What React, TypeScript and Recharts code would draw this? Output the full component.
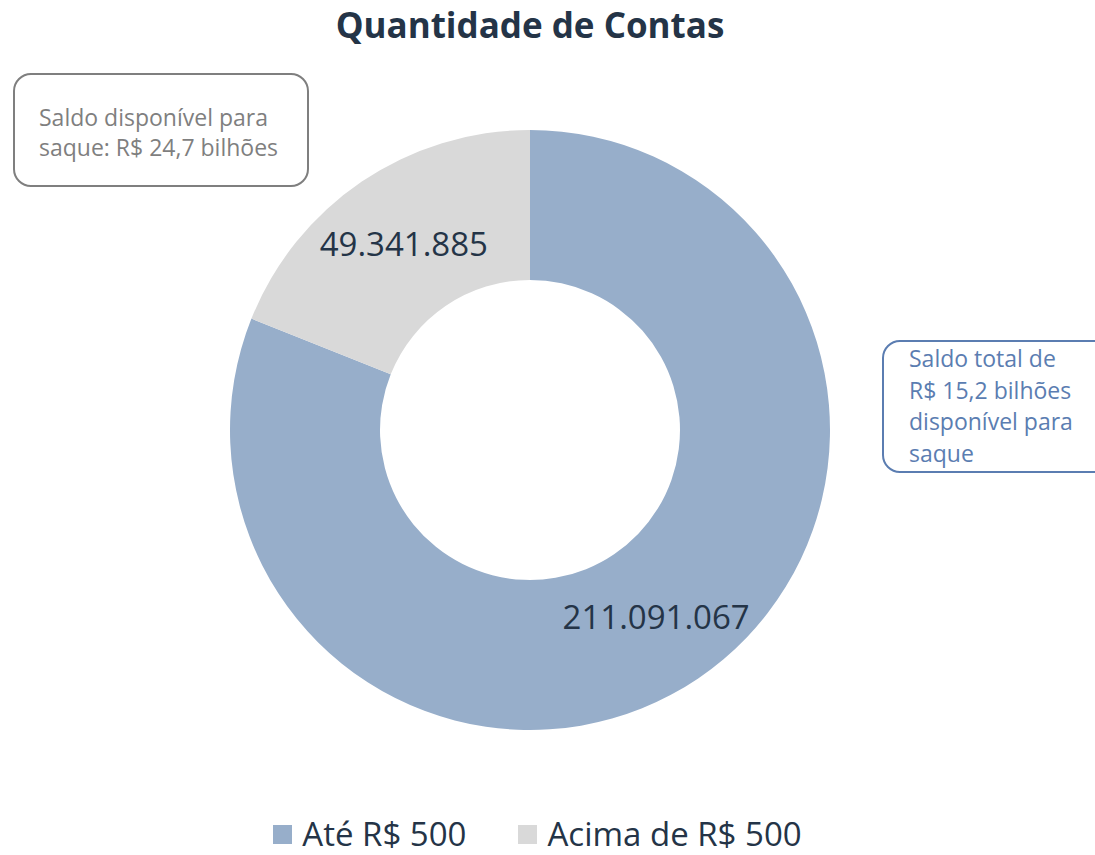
import { Cell, Legend, Pie, PieChart } from "recharts";

const categories = ["Até R$ 500", "Acima de R$ 500"];
const accountCounts = [211091067, 49341885];
const sliceColors = ["#97AECA", "#D9D9D9"];
const valueLabels = ["211.091.067", "49.341.885"];

const data = categories.map((name, i) => ({ name, value: accountCounts[i], label: valueLabels[i] }));

const FONT = "'Open Sans', sans-serif";
const NAVY = "#243447";
const RAD = Math.PI / 180;

function SliceLabel(props: any) {
  const { cx, cy, midAngle, innerRadius, outerRadius, payload } = props;
  const r = (innerRadius + outerRadius) / 2;
  const x = cx + r * Math.cos(-midAngle * RAD);
  const y = cy + r * Math.sin(-midAngle * RAD);
  return (
    <text x={x} y={y} textAnchor="middle" dominantBaseline="central" fill={NAVY} fontSize={33} fontFamily={FONT}>
      {payload.label}
    </text>
  );
}

function LegendRow() {
  return (
    <div style={{ display: "flex", justifyContent: "center", gap: 52, fontFamily: FONT, fontSize: 33, lineHeight: "42px", color: NAVY }}>
      {categories.map((c, i) => (
        <span key={c} style={{ display: "flex", alignItems: "center", gap: 10 }}>
          <span style={{ width: 19, height: 19, background: sliceColors[i], display: "inline-block" }} />
          {c}
        </span>
      ))}
    </div>
  );
}

export default function App() {
  return (
    <div style={{ position: "absolute", left: 0, top: 0, width: 1095, height: 855, background: "#fff", overflow: "hidden" }}>
      <div style={{ position: "absolute", top: 0, width: 1060, textAlign: "center", fontFamily: FONT, fontWeight: 700, fontSize: 35, lineHeight: "50px", color: NAVY }}>
        Quantidade de Contas
      </div>
      <PieChart width={1095} height={855} margin={{ top: 0, right: 0, bottom: 0, left: 0 }}>
        <Pie
          data={data}
          dataKey="value"
          cx={530}
          cy={430}
          innerRadius={150}
          outerRadius={300}
          startAngle={90}
          endAngle={-270}
          stroke="none"
          label={SliceLabel}
          labelLine={false}
          isAnimationActive={false}
        >
          {data.map((d, i) => (
            <Cell key={d.name} fill={sliceColors[i]} />
          ))}
        </Pie>
        <Legend verticalAlign="bottom" content={LegendRow} wrapperStyle={{ bottom: 0, width: 1075, left: 0 }} />
      </PieChart>
      <div style={{ position: "absolute", left: 13, top: 73, width: 296, height: 114, padding: "27px 0 0 24px", boxSizing: "border-box", border: "2px solid #7F7F7F", borderRadius: 18, fontFamily: FONT, fontSize: 23, lineHeight: "30px", color: "#7F7F7F" }}>
        Saldo disponível para<br />saque: R$ 24,7 bilhões
      </div>
      <div style={{ position: "absolute", left: 882, top: 340, width: 240, height: 133, padding: "1px 0 0 25px", boxSizing: "border-box", border: "2px solid #5B7DB1", borderRadius: 18, fontFamily: FONT, fontSize: 23, lineHeight: "31.5px", color: "#5B7DB1" }}>
        Saldo total de<br />R$ 15,2 bilhões<br />disponível para<br />saque
      </div>
    </div>
  );
}
